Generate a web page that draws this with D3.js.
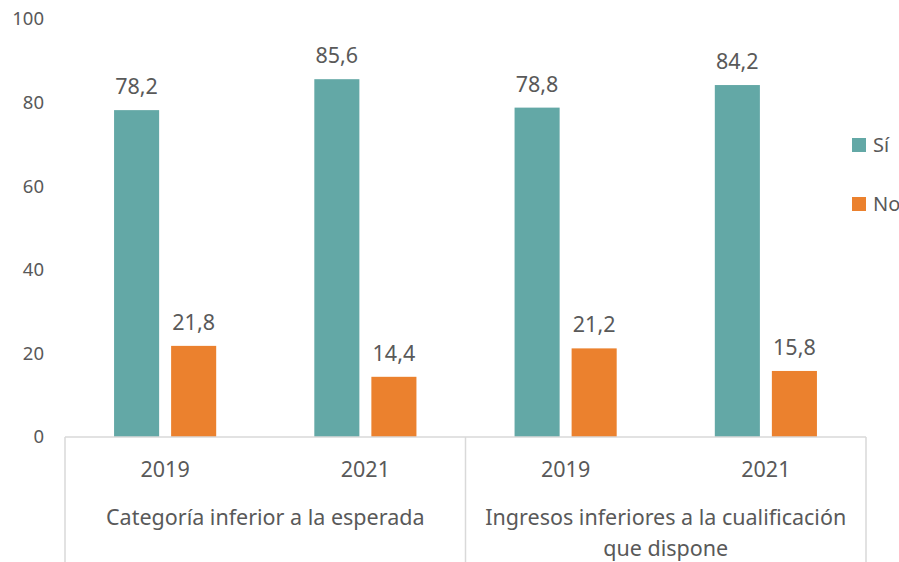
<!DOCTYPE html>
<html>
<head>
<meta charset="utf-8">
<script src="https://cdn.jsdelivr.net/npm/d3@7"></script>
<style>
  body { margin: 0; background: #fff; }
  text { font-family: "Noto Sans", "Open Sans", sans-serif; fill: #595959; }
</style>
</head>
<body>
<div id="chart"></div>
<script>
// data
var groups = [["Categoría inferior a la esperada"], ["Ingresos inferiores a la cualificación", "que dispone"]];
var years = ["2019", "2021", "2019", "2021"];
var seriesNames = ["Sí", "No"];
var siValues = [78.2, 85.6, 78.8, 84.2];
var noValues = [21.8, 14.4, 21.2, 15.8];
var yTicks = [0, 20, 40, 60, 80, 100];

var width = 899, height = 562;
var plot = {left: 65, right: 866, top: 19, bottom: 437};
var colors = {"Sí": "#63a8a6", "No": "#eb812e"};

var svg = d3.select("#chart").append("svg")
    .attr("width", width)
    .attr("height", height);

var x0 = d3.scaleBand()
    .domain(d3.range(years.length))
    .range([plot.left, plot.right]);

var x1 = d3.scaleBand()
    .domain(seriesNames)
    .range([0, x0.bandwidth()])
    .paddingInner(0.21)
    .paddingOuter(0.86);

var y = d3.scaleLinear()
    .domain([0, 100])
    .range([plot.bottom, plot.top]);

// y axis labels, no line
var yAxis = svg.append("g")
    .attr("transform", "translate(" + plot.left + ",0)")
    .call(d3.axisLeft(y).tickValues(yTicks).tickSize(0).tickPadding(21));
yAxis.select(".domain").remove();
yAxis.selectAll("text")
    .style("font-family", "\"Noto Sans\", sans-serif")
    .style("font-size", "18.5px")
    .style("fill", "#595959");

var rows = years.map(function(yr, i) {
  return {i: i, year: yr, values: [{s: "Sí", v: siValues[i]}, {s: "No", v: noValues[i]}]};
});

var cat = svg.selectAll("g.cat")
    .data(rows)
    .enter().append("g")
    .attr("class", "cat")
    .attr("transform", function(d) { return "translate(" + x0(d.i) + ",0)"; });

cat.selectAll("rect")
    .data(function(d) { return d.values; })
    .enter().append("rect")
    .attr("x", function(d) { return x1(d.s); })
    .attr("width", x1.bandwidth())
    .attr("y", function(d) { return y(d.v); })
    .attr("height", function(d) { return y(0) - y(d.v); })
    .style("fill", function(d) { return colors[d.s]; });

cat.selectAll("text.val")
    .data(function(d) { return d.values; })
    .enter().append("text")
    .attr("class", "val")
    .attr("x", function(d) { return x1(d.s) + x1.bandwidth() / 2; })
    .attr("y", function(d) { return y(d.v) - 16; })
    .attr("text-anchor", "middle")
    .style("font-size", "21.5px")
    .text(function(d) { return d3.format(".1f")(d.v).replace(".", ","); });

// year labels
cat.append("text")
    .attr("x", x0.bandwidth() / 2)
    .attr("y", 477)
    .attr("text-anchor", "middle")
    .style("font-size", "21.5px")
    .text(function(d) { return d.year; });

// category axis lines
var lineColor = "#d9d9d9";
svg.append("line")
    .attr("x1", plot.left).attr("x2", plot.right)
    .attr("y1", plot.bottom).attr("y2", plot.bottom)
    .style("stroke", lineColor).style("stroke-width", 1.5);

var bounds = [0, 2, 4];
svg.selectAll("line.sep")
    .data(bounds)
    .enter().append("line")
    .attr("class", "sep")
    .attr("x1", function(d) { return d < 4 ? x0(d) : plot.right; })
    .attr("x2", function(d) { return d < 4 ? x0(d) : plot.right; })
    .attr("y1", plot.bottom)
    .attr("y2", height)
    .style("stroke", lineColor).style("stroke-width", 1.5);

// group labels
svg.selectAll("text.grp")
    .data(groups)
    .enter().append("text")
    .attr("class", "grp")
    .attr("x", function(d, i) { return x0(i * 2) + x0.bandwidth(); })
    .attr("y", 525)
    .attr("text-anchor", "middle")
    .style("font-size", "21.5px")
    .selectAll("tspan")
    .data(function(d) { return d; })
    .enter().append("tspan")
    .attr("x", function() { return d3.select(this.parentNode).attr("x"); })
    .attr("dy", function(d, j) { return j === 0 ? 0 : 31; })
    .text(function(d) { return d; });

// legend
var legend = svg.selectAll("g.legend")
    .data(seriesNames)
    .enter().append("g")
    .attr("class", "legend")
    .attr("transform", function(d, i) { return "translate(852," + (138 + i * 59) + ")"; });

legend.append("rect")
    .attr("width", 14)
    .attr("height", 14)
    .style("fill", function(d) { return colors[d]; });

legend.append("text")
    .attr("x", 21)
    .attr("y", 14)
    .style("font-size", "20px")
    .text(function(d) { return d; });
</script>
</body>
</html>
